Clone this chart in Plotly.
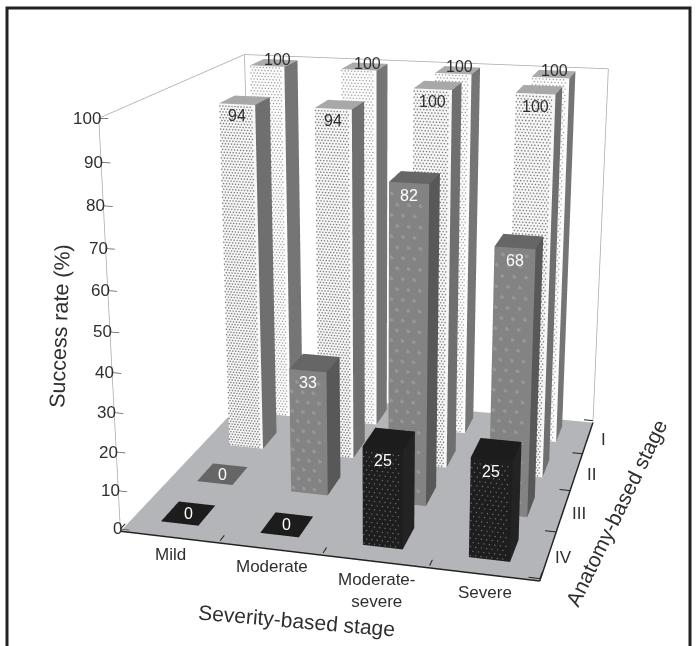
import plotly.graph_objects as go

severity = ["Mild", "Moderate", "Moderate-<br>severe", "Severe"]
anatomy = ["I", "II", "III", "IV"]
row_I = [100, 100, 100, 100]
row_II = [94, 94, 100, 100]
row_III = [0, 33, 82, 68]
row_IV = [0, 0, 25, 25]
rows = [row_I, row_II, row_III, row_IV]
z_ticks = list(range(0, 101, 10))

row_colors = [
    {"front": "#fbfbfb", "side": "#757575", "top": "#ababab", "text": "#2f2f2f",
     "dot": "#9a9a9a", "dot_size": 0.8, "dx": 0.035, "dz": 0.8},
    {"front": "#f6f6f6", "side": "#6f6f6f", "top": "#a8a8a8", "text": "#2f2f2f",
     "dot": "#808080", "dot_size": 0.9, "dx": 0.032, "dz": 0.75},
    {"front": "#838383", "side": "#585858", "top": "#666666", "text": "#ffffff",
     "dot": "#969696", "dot_size": 2.4, "dx": 0.11, "dz": 2.6},
    {"front": "#1e1e1e", "side": "#232323", "top": "#1c1c1c", "text": "#ffffff",
     "dot": "#7c7c7c", "dot_size": 0.75, "dx": 0.05, "dz": 1.1},
]
half_x = 0.19
half_y = 0.24
nx, ny = len(severity), len(anatomy)
WIN_W, WIN_H = 698, 646
W, H = 2 * WIN_W, 2 * WIN_H      # long lens: the scene is twice the window, cropped to it
OX, OY = 322, 357
FONT = "Liberation Sans"
DARK = "#2f2f2f"


def bar_row(values, iy, c):
    X, Y, Z, I, J, K, F = [], [], [], [], [], [], []
    for ix, v in enumerate(values):
        b = len(X)
        cx, cy = ix + 0.5, iy + 0.5
        for dz in (0, v):
            for dx, dy in ((-half_x, -half_y), (half_x, -half_y), (half_x, half_y), (-half_x, half_y)):
                X.append(cx + dx); Y.append(cy + dy); Z.append(dz)
        quads = [((4, 5, 6, 7), "top")]
        if v > 0:
            quads += [((0, 1, 5, 4), "front"), ((1, 2, 6, 5), "side")]
        for (p, q, r, s), key in quads:
            I += [b + p, b + p]; J += [b + q, b + r]; K += [b + r, b + s]
            F += [c[key], c[key]]
    return go.Mesh3d(x=X, y=Y, z=Z, i=I, j=J, k=K, facecolor=F, flatshading=True,
                     lighting=dict(ambient=1, diffuse=0, specular=0, roughness=1, fresnel=0),
                     hoverinfo="skip", showscale=False)


def stipple(values, iy, c):
    """Printed screen texture on the front faces, sized from each bar."""
    X, Y, Z = [], [], []
    for ix, v in enumerate(values):
        n_z = int(v / c["dz"])
        n_x = int(2 * half_x / c["dx"])
        for a in range(n_z):
            for b in range(n_x):
                X.append(ix + 0.5 - half_x + (b + (0.75 if a % 2 else 0.25)) * c["dx"])
                Y.append(iy + 0.5 - half_y - 0.004)
                Z.append((a + 0.5) * c["dz"])
    return go.Scatter3d(x=X, y=Y, z=Z, mode="markers", hoverinfo="skip", showlegend=False,
                        marker=dict(size=c["dot_size"], color=c["dot"], line=dict(width=0)))


def ann(x, y, z, text, size=16, color=DARK, **kw):
    return dict(x=x, y=y, z=z, text=text, showarrow=False, font=dict(size=size, color=color, family=FONT), **kw)


fig = go.Figure()
annotations = []
for r, (vals, c) in enumerate(zip(rows, row_colors)):
    iy = ny - 1 - r
    fig.add_trace(bar_row(vals, iy, c))
    fig.add_trace(stipple(vals, iy, c))
    for ix, v in enumerate(vals):
        if v == 0:
            annotations.append(ann(ix + 0.5, iy + 0.5, 0, str(v), color=c["text"]))
        elif r == 0:
            annotations.append(ann(ix + 0.5, iy + 0.5 + half_y, v, str(v), color=c["text"], xshift=-3))
        else:
            annotations.append(ann(ix + 0.5, iy + 0.5 - half_y, v - 3, str(v), color=c["text"]))

for ix, name in enumerate(severity):
    annotations.append(ann(ix + 0.5, 0, 0, name, size=17, xshift=1, yshift=-20 if "<br>" not in name else -31))
for i, name in enumerate(anatomy):
    annotations.append(ann(nx, ny - 1 - i + 0.5, 0, name, size=17, xshift=16, yshift=-3))
for z in z_ticks:
    annotations.append(ann(0, 0, z, str(z), size=17, xanchor="right", xshift=4))
annotations.append(ann(2, 0, 0, "Severity-based stage", size=21, textangle=5, yshift=-68, xshift=-27))
annotations.append(ann(nx, 2, 0, "Anatomy-based stage", size=21, textangle=-64, xshift=47, yshift=-22))
annotations.append(ann(0, 0, 50, "Success rate (%)", size=21.5, textangle=-88, xshift=-50, yshift=6))

# wall outline
wx, wy, wz = [], [], []
for seg in [((0, ny, 0), (0, ny, 100)), ((0, ny, 100), (nx, ny, 100)), ((nx, ny, 100), (nx, ny, 0)),
            ((0, 0, 100), (0, ny, 100)), ((0, 0, 0), (0, 0, 100))]:
    for p in seg:
        wx.append(p[0]); wy.append(p[1]); wz.append(p[2])
    wx.append(None); wy.append(None); wz.append(None)
fig.add_trace(go.Scatter3d(x=wx, y=wy, z=wz, mode="lines", line=dict(color="#a8a8a8", width=1.5),
                           hoverinfo="skip", showlegend=False))

# ticks point inward from each axis
tx, ty, tz = [], [], []
for k in range(0, nx + 1):
    tx += [k, k, None]; ty += [0, 0.12, None]; tz += [0, 0, None]
for k in range(0, ny + 1):
    tx += [nx, nx - 0.1, None]; ty += [k, k, None]; tz += [0, 0, None]
fig.add_trace(go.Scatter3d(x=tx, y=ty, z=tz, mode="lines", line=dict(color="#222222", width=2),
                           hoverinfo="skip", showlegend=False))
zx, zy, zz = [], [], []
for z in z_ticks:
    zx += [0, 0.09, None]; zy += [0, 0, None]; zz += [z, z, None]
fig.add_trace(go.Scatter3d(x=zx, y=zy, z=zz, mode="lines", line=dict(color="#555555", width=1.5),
                           hoverinfo="skip", showlegend=False))

common = dict(showgrid=False, zeroline=False, showspikes=False, showticklabels=False, ticks="", title_text="")
fig.update_layout(
    width=W, height=H, margin=dict(l=0, r=0, t=0, b=0), paper_bgcolor="white",
    showlegend=False,
    scene=dict(
        domain=dict(x=[0, 1], y=[0, 1]),
        aspectmode="manual", aspectratio=dict(x=0.98, y=0.95, z=0.97),
        camera=dict(eye=dict(x=0.91, y=-3.52, z=1.11), center=dict(x=0, y=0, z=0),
                    up=dict(x=0.035, y=0, z=1), projection=dict(type="perspective")),
        xaxis=dict(range=[0, nx], showbackground=False, showline=True, linecolor="#222222", linewidth=3, **common),
        yaxis=dict(range=[0, ny], showbackground=False, showline=True, linecolor="#222222", linewidth=3, **common),
        zaxis=dict(range=[-0.6, 100], showbackground=True, backgroundcolor="#b4b5b8", showline=False, **common),
        annotations=annotations,
    ),
    shapes=[dict(type="rect", xref="paper", yref="paper",
                 x0=(7 + OX) / W, x1=(690 + OX) / W, y0=1 - (660 + OY) / H, y1=1 - (8 + OY) / H,
                 line=dict(color="#222222", width=3))],
)
post = ("document.documentElement.style.overflow='hidden';document.body.style.overflow='hidden';"
        "document.body.style.margin='0';var d=document.querySelector('.plotly-graph-div');"
        f"d.style.position='fixed';d.style.left='-{OX}px';d.style.top='-{OY}px';")
fig.write_html("out.html", post_script=post)
